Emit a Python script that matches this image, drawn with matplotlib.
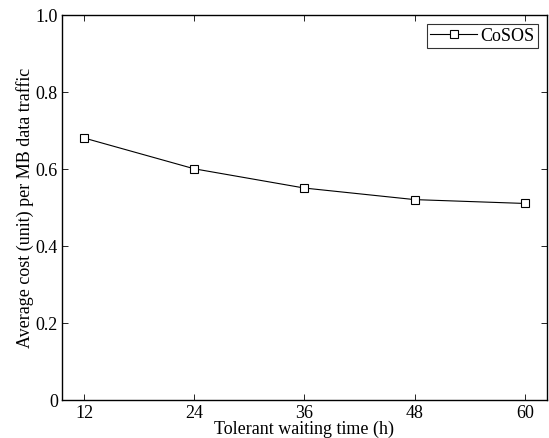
import matplotlib.pyplot as plt

plt.rcParams["font.family"] = ["Liberation Serif", "DejaVu Serif"]
plt.rcParams["mathtext.fontset"] = "stix"

waiting_time = [12, 24, 36, 48, 60]
cost_cosos = [0.68, 0.60, 0.55, 0.52, 0.51]
y_ticks = [0, 0.2, 0.4, 0.6, 0.8, 1.0]
y_tick_labels = ["0", "0.2", "0.4", "0.6", "0.8", "1.0"]

fig = plt.figure(figsize=(5.49, 4.39), dpi=100)
ax = fig.add_axes([0.113, 0.087, 0.883, 0.877])

ax.plot(
    waiting_time,
    cost_cosos,
    color="black",
    linewidth=0.8,
    marker="s",
    markersize=5.5,
    markerfacecolor="white",
    markeredgecolor="black",
    markeredgewidth=0.8,
    label="CoSOS",
)

ax.set_xlim(9.6, 62.4)
ax.set_ylim(0, 1.0)
ax.set_xticks(waiting_time)
ax.set_yticks(y_ticks)
ax.set_yticklabels(y_tick_labels)
ax.tick_params(
    direction="in", top=True, right=True, length=4, width=0.6, labelsize=13, pad=3
)
for sp in ax.spines.values():
    sp.set_linewidth(1.0)

ax.set_xlabel("Tolerant waiting time (h)", fontsize=13, labelpad=-1)
ax.set_ylabel("Average cost (unit) per MB data traffic", fontsize=13, labelpad=1)

leg = ax.legend(
    loc="upper right",
    fontsize=13,
    frameon=True,
    fancybox=False,
    edgecolor="black",
    handlelength=2.6,
    handletextpad=0.15,
    borderpad=0.2,
    borderaxespad=0.5,
)
leg.get_frame().set_linewidth(0.8)

fig.savefig("out.png", dpi=100)
